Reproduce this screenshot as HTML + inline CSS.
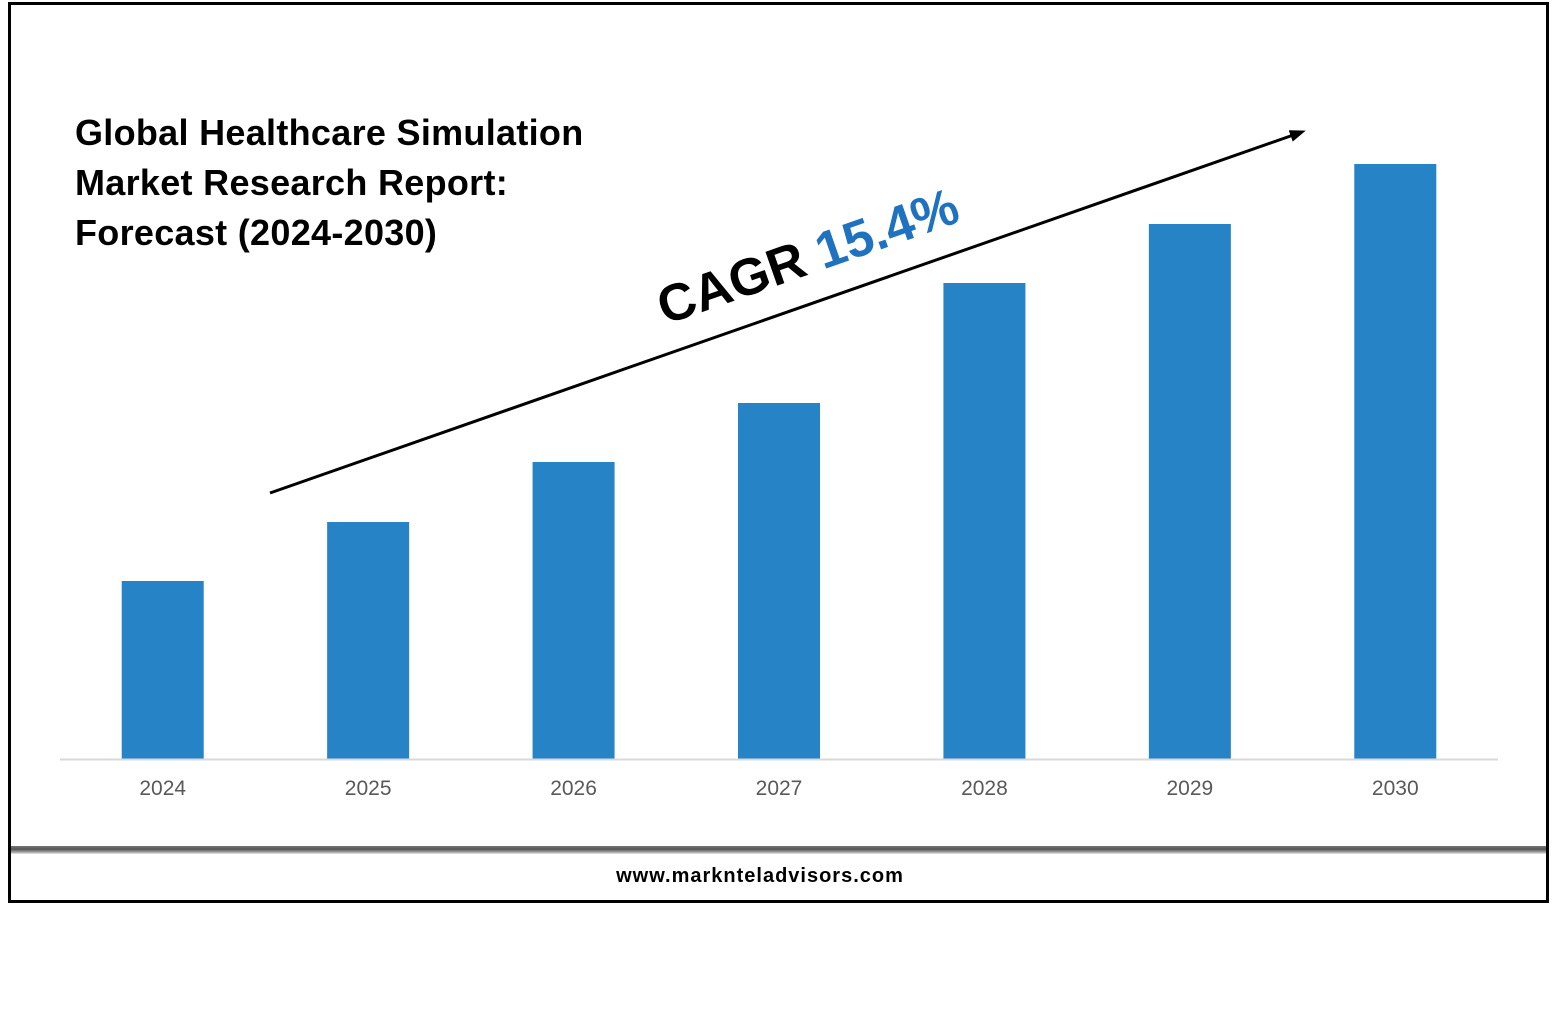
<!DOCTYPE html>
<html><head><meta charset="utf-8"><style>
body{margin:0;width:1557px;height:1011px;background:#fff;overflow:hidden;position:relative;font-family:"Liberation Sans",sans-serif}
.frame{position:absolute;left:8px;top:2px;width:1535px;height:895px;border:3px solid #000}
.sep{position:absolute;left:11px;top:846px;width:1535px;height:8px;background:linear-gradient(#777,#555 40%,#aaa 80%,#eee)}
.title{position:absolute;left:75px;top:108px;font-size:36px;font-weight:bold;line-height:50px;color:#000;letter-spacing:0.3px}
.foot{position:absolute;left:0;width:1520px;text-align:center;top:865px;font-size:20px;font-weight:bold;letter-spacing:1px}
</style></head><body>
<div class="frame"></div>
<div class="sep"></div>
<div class="title">Global Healthcare Simulation<br>Market Research Report:<br>Forecast (2024-2030)</div>
<div class="foot">www.marknteladvisors.com</div>
<svg width="1557" height="1011" style="position:absolute;left:0;top:0">
<defs><marker id="ah" markerWidth="16" markerHeight="12" refX="12" refY="6" orient="auto" markerUnits="userSpaceOnUse"><path d="M0,0 L16,6 L0,12 z" fill="#000"/></marker></defs>
<g id="bars"></g>
<line x1="60" y1="759.5" x2="1498" y2="759.5" stroke="#d9d9d9" stroke-width="2"/>
<g id="labels"></g>
<line x1="270" y1="493" x2="1302" y2="132" stroke="#000" stroke-width="3" marker-end="url(#ah)"/>
<text transform="translate(665,325) rotate(-19.3)" font-size="52" font-weight="bold"><tspan fill="#000">CAGR </tspan><tspan fill="#1f72bf">15.4%</tspan></text>
</svg>
<script>
const categories=["2024","2025","2026","2027","2028","2029","2030"];
const values=[178,237,297,356,476,535,595];
const x0=60,x1=1498,base=759,pxPerUnit=1;
const band=(x1-x0)/categories.length;
const bx=i=>x0+band*(i+0.5);
const y=v=>base-v*pxPerUnit;
const ns="http://www.w3.org/2000/svg";
const gb=document.getElementById('bars'),gl=document.getElementById('labels');
categories.forEach((c,i)=>{
 const r=document.createElementNS(ns,'rect');
 r.setAttribute('x',bx(i)-41);r.setAttribute('width',82);
 r.setAttribute('y',y(values[i]));r.setAttribute('height',base-y(values[i]));
 r.setAttribute('fill','#2683c6');
 
 
 gb.appendChild(r);
 const t=document.createElementNS(ns,'text');
 t.setAttribute('x',bx(i));t.setAttribute('y',795);t.setAttribute('text-anchor','middle');
 t.setAttribute('font-size','21');t.setAttribute('fill','#595959');
 t.textContent=c;
 
 
 gl.appendChild(t);
});
</script>
</body></html>
